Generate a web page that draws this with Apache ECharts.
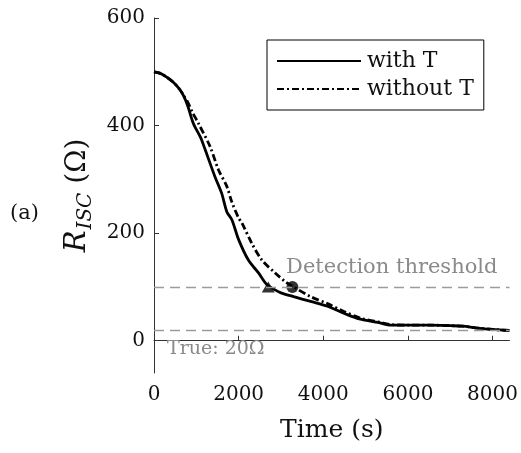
<!DOCTYPE html>
<html>
<head>
<meta charset="utf-8">
<script src="https://cdn.jsdelivr.net/npm/echarts@6/dist/echarts.min.js"></script>
<style>html,body{margin:0;padding:0;background:#fff}#c{width:521px;height:453px}</style>
</head>
<body>
<div id="c"></div>
<script>
const FONT = 'DejaVu Serif';
const timeWith = [0,150,300,450,600,700,800,930,1100,1210,1440,1600,1720,1840,2000,2230,2470,2670,2850,3000,3300,3700,4100,4550,4880,5300,5600,6000,6500,7000,7300,7600,8000,8400];
const valuesWith = [500,497,490,481,468,455,436,404,378,355,305,274,240,225,188,150,126,104,95,89,82,73,64,49,40,34,29,29,29,28,27,24,21,19];
const timeWithout = [0,150,300,450,600,700,800,900,1050,1325,1522,1721,1839,2000,2076,2312,2549,2864,3100,3300,3700,4100,4500,4880,5300,5600,6000,6500,7000,7300,7600,8000,8400];
const valuesWithout = [500,497,490,481,468,456,443,426,404,361,318,287,258,228,219,181,150,126,110,100,82,69,54,42,35,30,29,29,28,27,24,21,19];
const detectWith = [2700, 100];
const detectWithout = [3270, 100];
const thresholdValue = 100;
const trueValue = 20;
const xTicks = [0,2000,4000,6000,8000];
const yTicks = [0,200,400,600];

const pairs = (ts, vs) => ts.map((t, i) => [t, vs[i]]);
const plain = v => String(v);
const chart = echarts.init(document.getElementById('c'));
chart.setOption({
  animation: false,
  backgroundColor: '#fff',
  textStyle: { fontFamily: FONT },
  grid: { left: 154, right: 11, top: 18, bottom: 80 },
  xAxis: {
    type: 'value', min: 0, max: 8400,
    name: 'Time (s)', nameLocation: 'middle', nameGap: 45,
    nameTextStyle: { fontFamily: FONT, fontSize: 25, color: '#111' },
    axisLine: { lineStyle: { color: '#333', width: 1 } },
    axisTick: { inside: true, length: 5, customValues: xTicks, lineStyle: { color: '#333' } },
    axisLabel: { customValues: xTicks, formatter: plain, fontFamily: FONT, fontSize: 20, color: '#111', margin: 12 },
    splitLine: { show: false }
  },
  yAxis: {
    type: 'value', min: -60, max: 600,
    name: '{r|R}{s|ISC}{n| (Ω)}', nameLocation: 'middle', nameGap: 57, nameRotate: 90,
    nameTextStyle: {
      fontFamily: FONT, color: '#111',
      rich: {
        r: { fontFamily: FONT, fontSize: 29, fontStyle: 'italic', color: '#111', lineHeight: 34 },
        s: { fontFamily: FONT, fontSize: 20, fontStyle: 'italic', color: '#111', padding: [17, 0, 0, 1] },
        n: { fontFamily: FONT, fontSize: 28, color: '#111', lineHeight: 34 }
      }
    },
    axisLine: { show: true, lineStyle: { color: '#333', width: 1 } },
    axisTick: { show: true, inside: true, length: 5, customValues: yTicks, lineStyle: { color: '#333' } },
    axisLabel: { customValues: yTicks, formatter: plain, fontFamily: FONT, fontSize: 20, color: '#111', margin: 9 },
    splitLine: { show: false }
  },
  legend: {
    orient: 'vertical', left: 267, top: 40,
    data: ['with T', 'without T'],
    itemWidth: 84, itemHeight: 22, itemGap: 6,
    padding: [10, 10, 10, 9],
    borderColor: '#000', borderWidth: 1, backgroundColor: '#fff',
    itemStyle: { opacity: 0 },
    textStyle: { fontFamily: FONT, fontSize: 22, color: '#111', padding: [0, 0, 0, 1] }
  },
  graphic: [
    { type: 'text', left: 10, top: 203, style: { text: '(a)', fontFamily: FONT, fontSize: 21, fill: '#111' } }
  ],
  series: [
    {
      name: 'with T', type: 'line', data: pairs(timeWith, valuesWith),
      symbol: 'none', smooth: 0.3,
      itemStyle: { color: '#000' },
      lineStyle: { color: '#000', width: 2.8 },
      markLine: {
        silent: true, symbol: 'none',
        lineStyle: { type: [10, 6], color: '#9a9a9a', width: 1.3 },
        data: [
          { yAxis: thresholdValue, label: { show: true, position: 'insideEndTop', formatter: 'Detection threshold', fontFamily: FONT, fontSize: 21, color: '#8a8a8a', distance: [12, 9] } },
          { yAxis: trueValue, label: { show: true, position: 'insideStartBottom', formatter: 'True: 20Ω', fontFamily: FONT, fontSize: 19, color: '#8a8a8a', distance: [13, 10] } }
        ]
      },
      z: 3
    },
    {
      name: 'without T', type: 'line', data: pairs(timeWithout, valuesWithout),
      symbol: 'none', smooth: 0.3,
      itemStyle: { color: '#000' },
      lineStyle: { color: '#000', width: 2.8, type: [7, 3, 2, 3] },
      z: 3
    },
    {
      name: 'detect with', type: 'scatter', data: [detectWith],
      symbol: 'triangle', symbolSize: [13, 11], itemStyle: { color: '#000' }, z: 4
    },
    {
      name: 'detect without', type: 'scatter', data: [detectWithout],
      symbol: 'circle', symbolSize: 12, itemStyle: { color: '#000' }, z: 4
    }
  ]
});
</script>
</body>
</html>
